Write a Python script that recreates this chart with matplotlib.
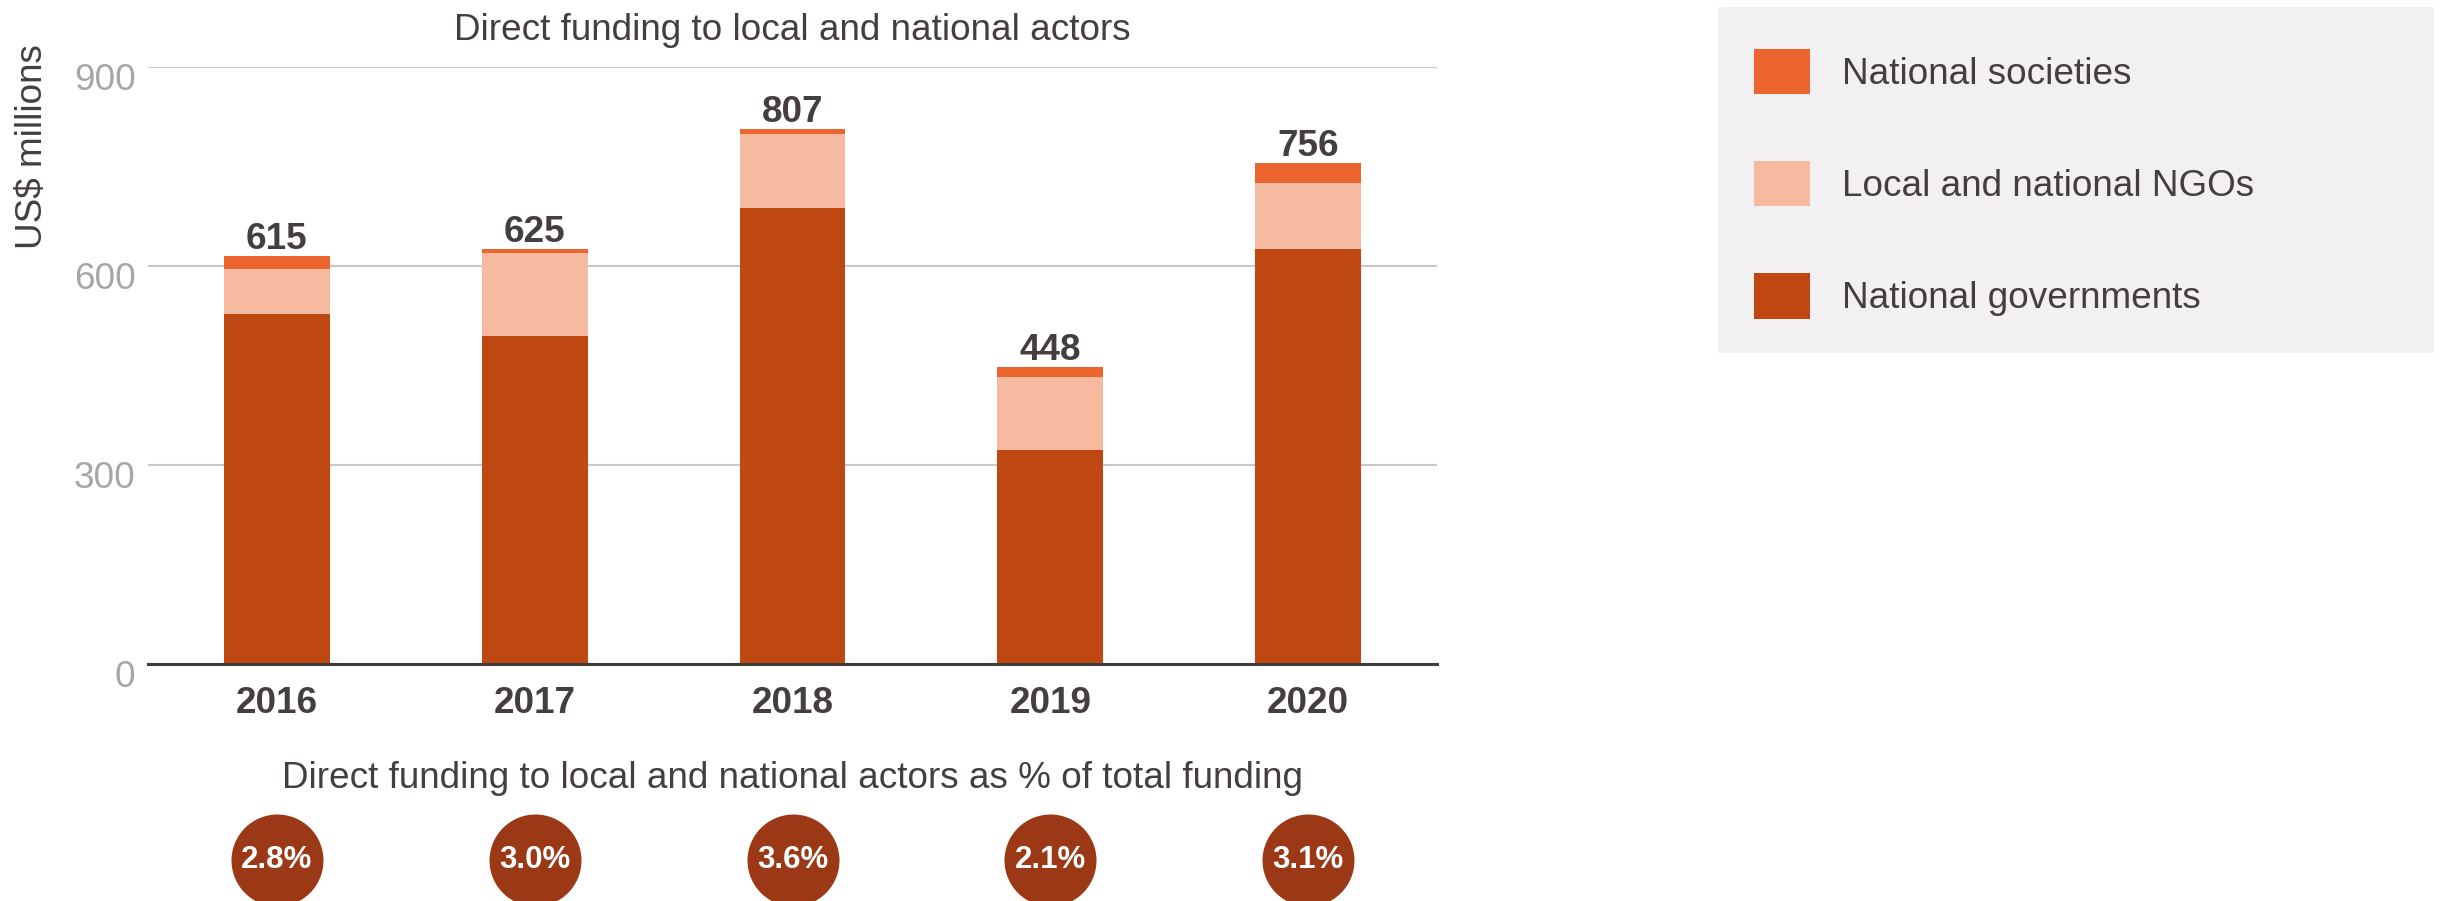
import matplotlib
matplotlib.use("Agg")
import matplotlib.pyplot as plt
import matplotlib.transforms as mtransforms
from matplotlib.patches import Rectangle, Patch

plt.rcParams['font.family'] = ['Liberation Sans', 'DejaVu Sans']

years = ['2016', '2017', '2018', '2019', '2020']
governments = [528, 495, 687, 323, 625]
ngos = [68, 124, 112, 109, 100]
societies = [19, 6, 8, 16, 31]
totals = [615, 625, 807, 448, 756]
shares = ['2.8%', '3.0%', '3.6%', '2.1%', '3.1%']
series_labels = ['National societies', 'Local and national NGOs', 'National governments']
yticks = [0, 300, 600, 900]

C_GOV = '#bf4712'
C_NGO = '#f5ba9f'
C_NS = '#ec652e'
C_CIRCLE = '#9b3916'
C_TEXT = '#443e42'
C_TICK = '#a6a6a6'

W, H = 2445, 901
fig = plt.figure(figsize=(W / 100, H / 100), dpi=100)
FS = 26.6

ax_l, ax_r, ax_t, ax_b = 148, 1437, 67, 664
ax = fig.add_axes([ax_l / W, 1 - ax_b / H, (ax_r - ax_l) / W, (ax_b - ax_t) / H])

x = list(range(len(years)))
bw = 0.41
ax.bar(x, governments, width=bw, color=C_GOV, zorder=3)
ax.bar(x, ngos, width=bw, bottom=governments, color=C_NGO, zorder=3)
bottom3 = [g + n for g, n in zip(governments, ngos)]
ax.bar(x, societies, width=bw, bottom=bottom3, color=C_NS, zorder=3)

for xi, b3, s, t in zip(x, bottom3, societies, totals):
    ax.annotate(str(t), (xi, b3 + s), xytext=(0, 5), textcoords='offset points',
                ha='center', va='baseline', fontsize=FS, fontweight='bold', color=C_TEXT)

ax.set_xlim(-0.5, len(years) - 0.5)
ax.set_ylim(0, 900)
ax.set_yticks(yticks)
ax.set_yticklabels([str(v) for v in yticks])
ax.set_xticks(x)
ax.set_xticklabels(years, fontweight='bold')
ax.tick_params(axis='y', length=0, labelsize=FS, labelcolor=C_TICK, pad=9)
ax.tick_params(axis='x', length=0, labelsize=FS, labelcolor=C_TEXT, pad=16)
ax.yaxis.grid(True, color='#c8c8c8', linewidth=1.5, zorder=0)
for side in ['top', 'right', 'left']:
    ax.spines[side].set_visible(False)
ax.spines['bottom'].set_color('#3d3d3d')
ax.spines['bottom'].set_linewidth(2.2)
ax.spines['bottom'].set_zorder(4)
ax.set_axisbelow(True)

offset = mtransforms.ScaledTranslation(0, -7 / 72, fig.dpi_scale_trans)
for lbl in ax.get_yticklabels():
    lbl.set_transform(lbl.get_transform() + offset)

fig.text(792 / W, 1 - 30 / H, 'Direct funding to local and national actors',
         ha='center', va='center', fontsize=FS, color=C_TEXT)
fig.text(33 / W, 1 - 147 / H, 'US$ millions', rotation=90,
         ha='center', va='center', fontsize=FS, color=C_TEXT)
fig.text(792 / W, 1 - 779 / H, 'Direct funding to local and national actors as % of total funding',
         ha='center', va='center', fontsize=FS, color=C_TEXT)

# circles row
cax = fig.add_axes([ax_l / W, 0, (ax_r - ax_l) / W, (901 - 814) / H])
cax.set_xlim(-0.5, len(years) - 0.5)
cax.set_ylim(0, 1)
cax.axis('off')
cy_frac = (901 - 860) / (901 - 814)
cax.scatter(x, [cy_frac] * len(x), s=(92 * 0.72) ** 2, color=C_CIRCLE, linewidths=0,
            clip_on=False, zorder=2)
for xi, sh in zip(x, shares):
    cax.text(xi, cy_frac, sh, ha='center', va='center', fontsize=22.5,
             fontweight='bold', color='white', zorder=3)

# legend
fig.patches.append(Rectangle((1718 / W, 1 - 353 / H), (2434 - 1718) / W, (353 - 7) / H,
                             transform=fig.transFigure, facecolor='#f2f0f3',
                             edgecolor='none', zorder=0))
handles = [Patch(facecolor=C_NS), Patch(facecolor=C_NGO), Patch(facecolor=C_GOV)]
leg = fig.legend(handles, series_labels, loc='upper left',
                 bbox_to_anchor=(1754 / W, 1 - 49 / H), frameon=False, borderpad=0,
                 borderaxespad=0, fontsize=FS, handlelength=1.51, handleheight=1.51,
                 handletextpad=0.86, labelspacing=1.81)
for t in leg.get_texts():
    t.set_color(C_TEXT)

fig.savefig('out.png', dpi=100, facecolor='white')
